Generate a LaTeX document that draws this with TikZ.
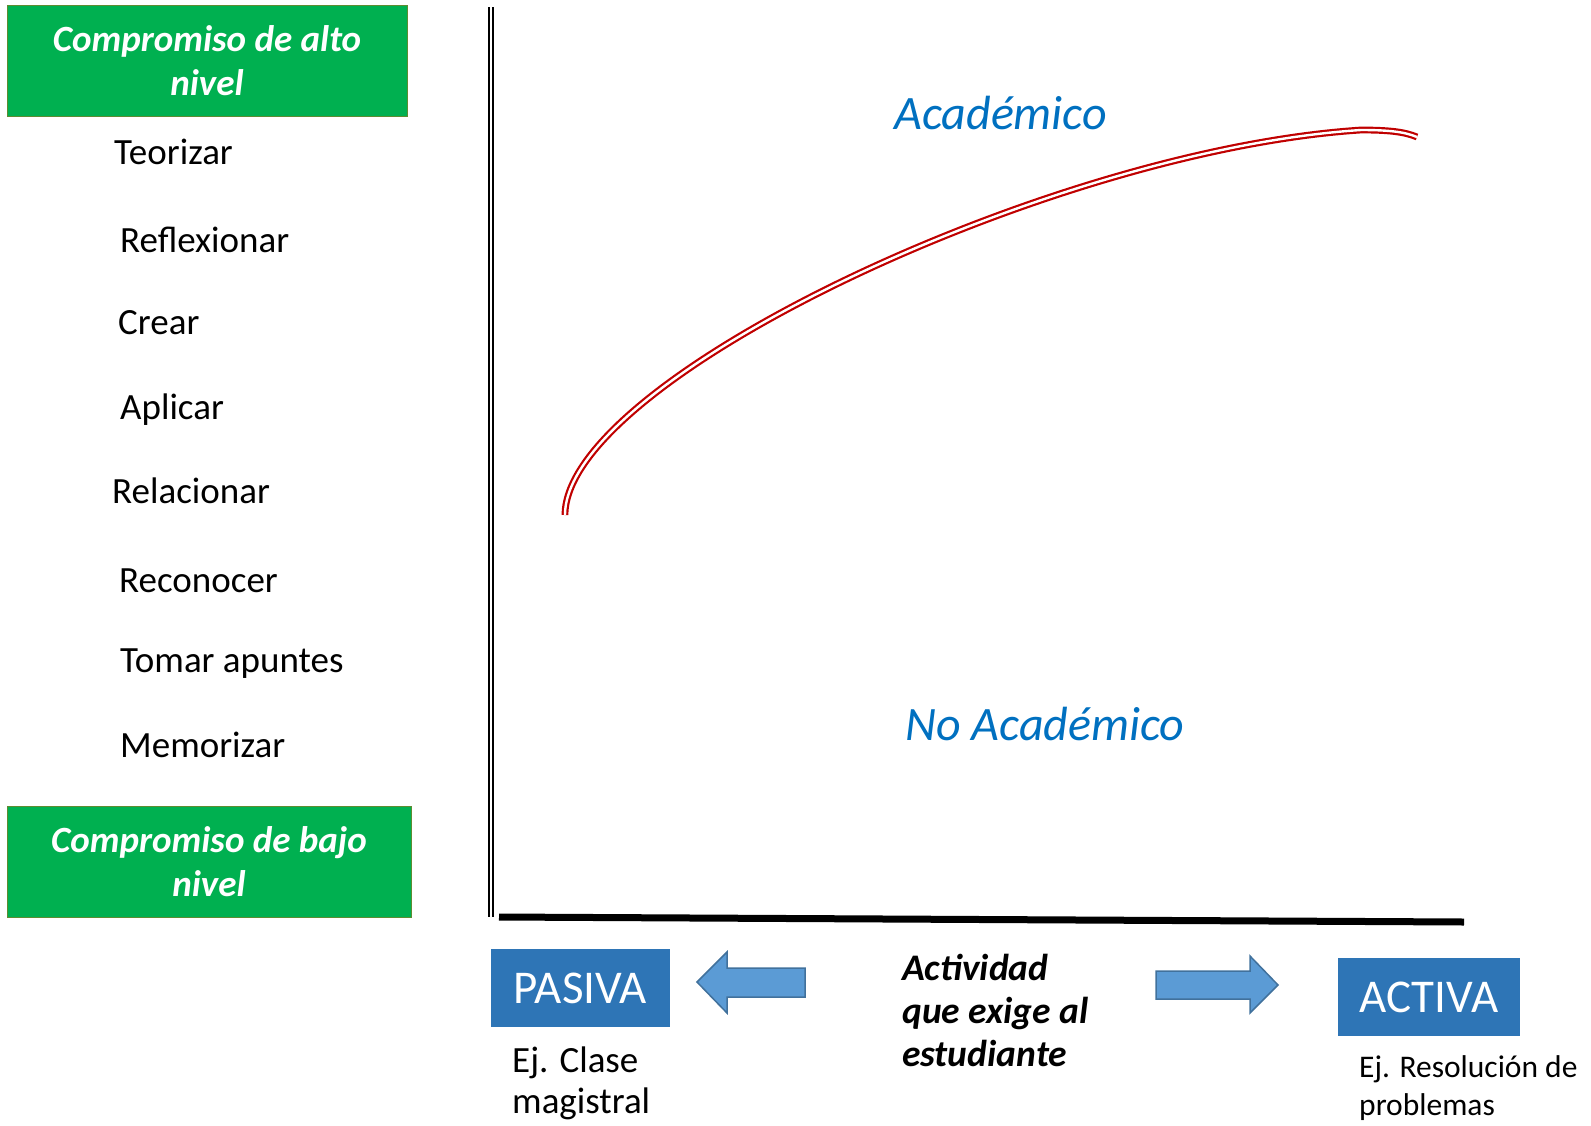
\documentclass[tikz,border=0pt]{standalone}
\usepackage{fontspec}
\setmainfont{Carlito}
\usepackage{xcolor}
\usepackage{tikz}
\usetikzlibrary{shapes}
\usetikzlibrary{arrows}
\definecolor{boxgreen}{HTML}{00B050}
\definecolor{boxgreenline}{HTML}{5E8C31}
\definecolor{boxblue}{HTML}{2E75B6}
\definecolor{arrowblue}{HTML}{5B9BD5}
\definecolor{arrowline}{HTML}{41719C}
\definecolor{labelblue}{HTML}{0070C0}
\definecolor{curvered}{HTML}{C00000}
\tikzset{
  level box/.style={rectangle,draw=boxgreenline,fill=boxgreen,text=white,line width=1pt,
    minimum width=400pt,minimum height=111pt,align=center,inner sep=0pt,
    font=\fontsize{37}{44}\selectfont\bfseries\itshape},
  mode box/.style={rectangle,fill=boxblue,text=white,inner sep=0pt,minimum height=78pt,
    font=\fontsize{47}{56}\selectfont},
  verb/.style={anchor=base west,inner sep=0pt,font=\fontsize{37}{44}\selectfont},
  zone/.style={anchor=base west,inner sep=0pt,text=labelblue,font=\fontsize{48}{57}\selectfont\itshape},
  note/.style={anchor=base west,inner sep=0pt,align=left},
  block arrow/.style={fill=arrowblue,draw=arrowline,line width=1.5pt,line join=miter}
}
\begin{document}
\begin{tikzpicture}[x=1pt,y=-1pt]
  \useasboundingbox (0,0) rectangle (1591,1125);
  % niveles de compromiso
  \node [level box] (alto) at (207,61) {Compromiso de alto\\nivel};
  \node [level box,minimum width=404pt] (bajo) at (209,861.5) {Compromiso de bajo\\nivel};
  \node [verb] (teorizar) at (114,164) {Teorizar};
  \node [verb] (reflexionar) at (120,252) {Reflexionar};
  \node [verb] (crear) at (118,334) {Crear};
  \node [verb] (aplicar) at (120,419) {Aplicar};
  \node [verb] (relacionar) at (112,503) {Relacionar};
  \node [verb] (reconocer) at (119,592) {Reconocer};
  \node [verb] (apuntes) at (120,672) {Tomar apuntes};
  \node [verb] (memorizar) at (120,757) {Memorizar};
  % ejes
  \coordinate (ytop) at (491,7);
  \coordinate (ybot) at (491,917);
  \coordinate (xleft) at (499,917);
  \coordinate (xright) at (1464,922);
  \draw [line width=1.7pt,double=white,double distance=2.5pt] (ytop) -- (ybot);
  \draw [line width=7pt] (xleft) -- (xright);
  % curva
  \coordinate (cstart) at (565,515);
  \coordinate (cpeak) at (1361,130);
  \coordinate (cend) at (1417,137);
  \draw [curvered,line width=2.2pt,double=white,double distance=2.4pt]
    (cstart) .. controls (565,380) and (1050,150) .. (cpeak)
             .. controls (1390,130) and (1405,132) .. (cend);
  \node [zone] (academico) at (894,129) {Académico};
  \node [zone] (noacademico) at (905,740) {No Académico};
  % actividad
  \node [mode box,minimum width=179pt] (pasiva) at (580.5,988) {PASIVA};
  \node [mode box,minimum width=182pt] (activa) at (1429,997) {ACTIVA};
  \filldraw [block arrow] (697,982) -- (727,952) -- (727,968) -- (805,968)
    -- (805,997) -- (727,997) -- (727,1013) -- cycle;
  \filldraw [block arrow] (1278,985) -- (1250,956) -- (1250,971) -- (1156,971)
    -- (1156,999) -- (1250,999) -- (1250,1013) -- cycle;
  \node [note,font=\fontsize{37.5}{43}\selectfont\bfseries\itshape] (actividad) at (902,1066)
    {Actividad\\que exige al\\estudiante};
  \node [note,font=\fontsize{37}{41}\selectfont] (clase) at (512,1113) {Ej. Clase\\magistral};
  \node [note,font=\fontsize{31.5}{38}\selectfont] (problemas) at (1359,1115) {Ej. Resolución de\\problemas};
\end{tikzpicture}
\end{document}
